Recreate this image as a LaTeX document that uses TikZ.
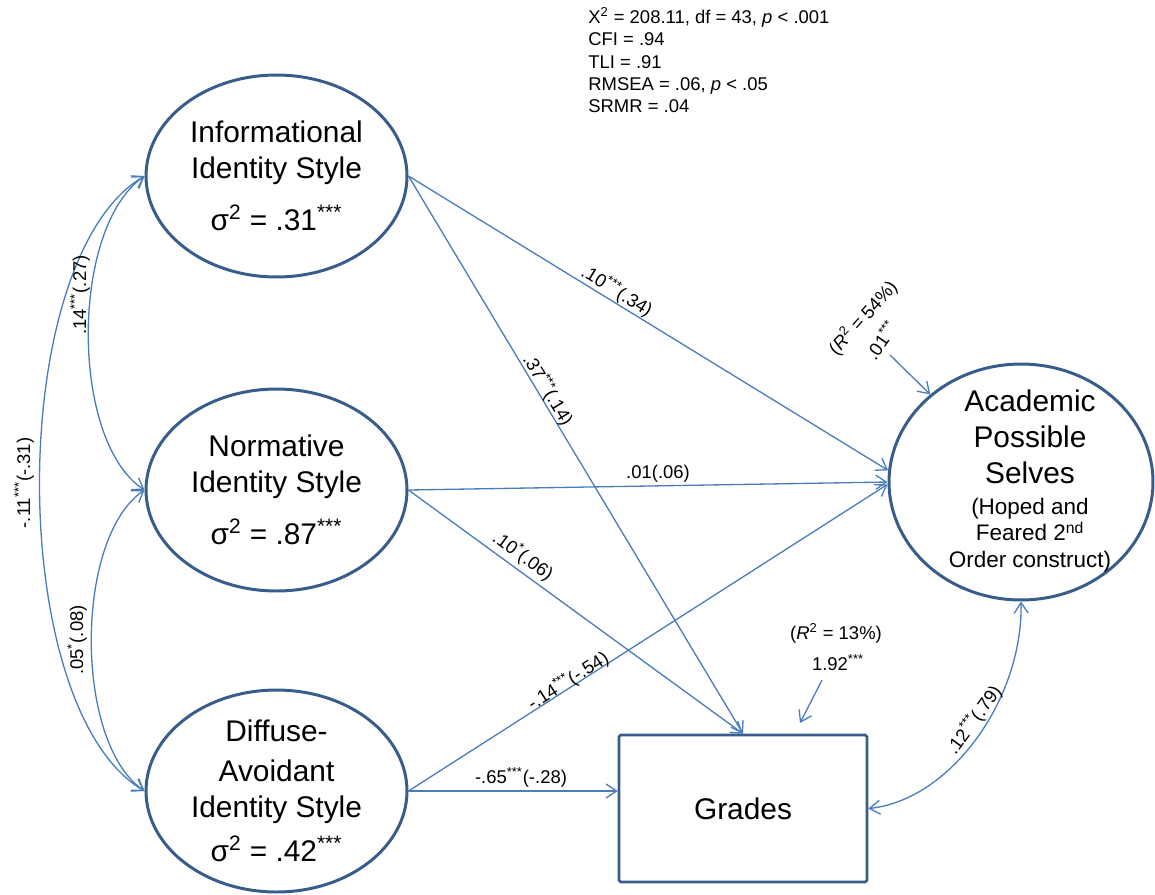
\documentclass[tikz,border=0pt]{standalone}
\usepackage{fontspec}
\setmainfont{Liberation Sans}
\usetikzlibrary{shapes.geometric,arrows.meta}
\definecolor{shapeline}{HTML}{385D8A}
\definecolor{pathline}{HTML}{4A7EBB}
\newcommand\nodefont{\fontsize{17}{20.5}\selectfont}
\newcommand\subfont{\fontsize{12.8}{14.7}\selectfont}
\newcommand\notefont{\fontsize{10.5}{12.75}\selectfont}
\newcommand\sig[1]{#1\textsuperscript{***}}
\begin{document}
\begin{tikzpicture}[x=0.02cm,y=-0.02cm,
  latent/.style={ellipse,draw=shapeline,line width=1.7pt,inner sep=0pt,
    minimum width=5.22cm,minimum height=4.04cm,align=center,font=\nodefont},
  observed/.style={rectangle,draw=shapeline,line width=1.5pt,rounded corners=1pt,
    minimum width=4.96cm,minimum height=2.94cm,font=\nodefont},
  path/.style={draw=pathline,line width=0.75pt,-{Straight Barb[length=6pt,width=8pt]}},
  cov/.style={draw=pathline,line width=0.75pt,
    {Straight Barb[length=6pt,width=8pt]}-{Straight Barb[length=6pt,width=8pt]}},
  lbl/.style={font=\notefont,inner sep=1pt}]
\useasboundingbox (0,0) rectangle (1155,894);

% fit statistics
\node[anchor=north west,align=left,font=\notefont,inner sep=0pt] (fit) at (588,7)
  {X\textsuperscript{2} = 208.11, df = 43, \textit{p} < .001\\
   CFI = .94\\ TLI = .91\\ RMSEA = .06, \textit{p} < .05\\ SRMR = .04};

% identity styles
\node[latent] (info) at (276.5,176)
  {Informational\\Identity Style\\[9pt]σ\textsuperscript{2} = \sig{.31}};
\node[latent] (norm) at (276.5,490)
  {Normative\\Identity Style\\[9pt]σ\textsuperscript{2} = \sig{.87}};
\node[latent] (diff) at (276.5,791)
  {Diffuse-\\[2pt]Avoidant\\Identity Style\\[5pt]σ\textsuperscript{2} = \sig{.42}};

% outcomes
\node[latent,minimum width=5.28cm,minimum height=4.72cm] (aps) at (1021,482) {};
\node[align=center,font=\nodefont,inner sep=0pt] (apstext) at (1030,481)
  {Academic\\Possible\\Selves\\[-3pt]\subfont (Hoped and\\[-5.5pt]\subfont Feared 2\textsuperscript{nd}\\[-5.5pt]\subfont Order construct)};
\node[observed] (grades) at (743,808.5) {Grades};

% structural paths
\draw[path] (info.east) -- (aps.175);
\draw[path] (info.east) -- (grades.north);
\draw[path] (norm.east) -- (aps.west);
\draw[path] (norm.east) -- (grades.north);
\draw[path] (diff.east) -- (aps.181);
\draw[path] (diff.east) -- (diff.east -| grades.west);

\node[lbl,rotate=-31.6] (l1) at (617,291) {\sig{.10}(.34)};
\node[lbl,rotate=-59] (l2) at (548,390) {\sig{.37}(.14)};
\node[lbl] (l3) at (658,474) {.01(.06)};
\node[lbl,rotate=-36.2] (l4) at (523,556) {.10\textsuperscript{*}(.06)};
\node[lbl,rotate=32.6] (l5) at (568,681) {-\sig{.14}(-.54)};
\node[lbl] (l6) at (521,777) {-\sig{.65}(-.28)};

% covariances
\draw[cov] (info.west) .. controls (70,228) and (70,441) .. (norm.west);
\draw[cov] (info.west) .. controls (5,258) and (5,709) .. (diff.west);
\draw[cov] (norm.west) .. controls (74,538) and (74,743) .. (diff.west);
\draw[cov] (grades.east) .. controls (950,800) and (1023,700) .. (aps.south);

\node[lbl,rotate=90] (c1) at (80,295) {\sig{.14}(.27)};
\node[lbl,rotate=90] (c2) at (24,483) {-\sig{.11}(-.31)};
\node[lbl,rotate=90] (c3) at (77,640) {.05\textsuperscript{*}(.08)};
\node[lbl,rotate=54] (c4) at (974,720) {\sig{.12}(.79)};

% disturbances
\coordinate (e1) at (890,355);
\draw[path] (e1) -- (aps.136);
\node[lbl,rotate=48] (r1) at (863,318) {(\textit{R}\textsuperscript{2} = 54\%)};
\node[lbl,rotate=55] (r1v) at (881,340) {\sig{.01}};

\coordinate (e2) at (822,680);
\coordinate (e2tip) at (800,723);
\draw[path] (e2) -- (e2tip);
\node[lbl] (r2) at (836,633) {(\textit{R}\textsuperscript{2} = 13\%)};
\node[lbl] (r2v) at (838,663) {\sig{1.92}};
\end{tikzpicture}
\end{document}
